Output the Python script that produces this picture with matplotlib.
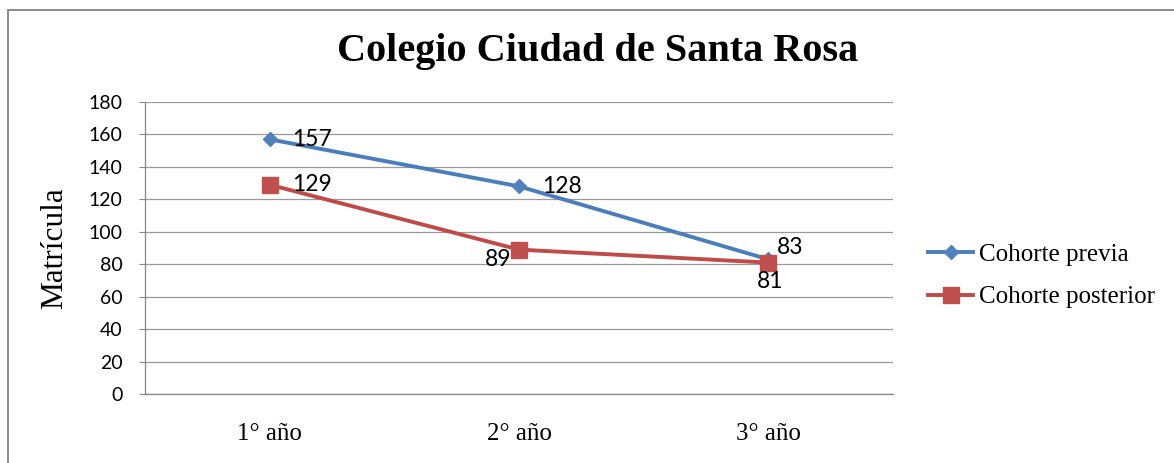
import matplotlib
matplotlib.use("Agg")
import matplotlib.pyplot as plt
from matplotlib.patches import Rectangle
from matplotlib.lines import Line2D

categories = ["1° año", "2° año", "3° año"]
previa = [157, 128, 83]
posterior = [129, 89, 81]
series_names = ["Cohorte previa", "Cohorte posterior"]
yticks = [0, 20, 40, 60, 80, 100, 120, 140, 160, 180]
title = "Colegio Ciudad de Santa Rosa"
ylabel = "Matrícula"

# label offsets in pixels (dx, dy) and alignment for each point
previa_off = [(22, 0, "left", "center"), (23, 0, "left", "center"), (9, 12, "left", "center")]
posterior_off = [(22, 0, "left", "center"), (-21, -10, "center", "center"), (2, -19, "center", "center")]

W, H = 1174, 463
fig = plt.figure(figsize=(W / 100, H / 100), dpi=100)
serif = "Liberation Serif"
sans = "Lato"

# outer frame
fig.patches.append(Rectangle((8 / W, -0.1), 1.2, 1 - 10 / H + 0.1, transform=fig.transFigure,
                             fill=False, edgecolor="#8a8a8a", linewidth=1.4, zorder=0))

left, right, top, bottom = 145, 893, 102, 394
ax = fig.add_axes([left / W, 1 - bottom / H, (right - left) / W, (bottom - top) / H])

blue_line, blue_mk = "#4A7EBB", "#4F81BD"
red_line, red_mk = "#BE4B48", "#C0504D"
x = list(range(len(categories)))
ax.plot(x, previa, color=blue_line, lw=2.8, marker="D", markersize=7.5,
        markerfacecolor=blue_mk, markeredgecolor=blue_mk, zorder=4, solid_capstyle="round")
ax.plot(x, posterior, color=red_line, lw=2.8, marker="s", markersize=11,
        markerfacecolor=red_mk, markeredgecolor=red_mk, zorder=5, solid_capstyle="round")

def px2pt(v):
    return v * 72 / 100

for xs, vals, offs in [(x, previa, previa_off), (x, posterior, posterior_off)]:
    for xi, v, (dx, dy, ha, va) in zip(xs, vals, offs):
        ax.annotate(str(v), (xi, v), xytext=(px2pt(dx), px2pt(dy)), textcoords="offset points",
                    ha=ha, va=va, fontsize=16.5, family=sans, color="black", zorder=6)

ax.set_xlim(-0.5, len(categories) - 0.5)
ax.set_ylim(0, 180)
ax.set_yticks(yticks)
ax.set_xticks(x)
ax.set_xticklabels(categories, family=serif, fontsize=18)
ax.set_yticklabels([str(t) for t in yticks], family=sans, fontsize=14)
ax.tick_params(axis="x", length=0, pad=21)
ax.tick_params(axis="y", length=4, width=0.8, color="#868686", pad=12)
ax.grid(axis="y", color="#9a9a9a", linewidth=0.9)
ax.set_axisbelow(True)
for s in ["top", "right"]:
    ax.spines[s].set_visible(False)
for s in ["left", "bottom"]:
    ax.spines[s].set_color("#868686")
    ax.spines[s].set_linewidth(0.9)

fig.text(598 / W, 1 - 52 / H, title, ha="center", va="center", family=serif,
         fontweight="bold", fontsize=29)
fig.text(55 / W, 1 - 248 / H, ylabel, ha="center", va="center", rotation=90,
         family=serif, fontsize=22.5)

handles = [Line2D([], [], color=blue_line, lw=2.8, marker="D", markersize=7.5,
                  markerfacecolor=blue_mk, markeredgecolor=blue_mk),
           Line2D([], [], color=red_line, lw=2.8, marker="s", markersize=11,
                  markerfacecolor=red_mk, markeredgecolor=red_mk)]
fig.legend(handles, series_names, loc="center left", bbox_to_anchor=(918 / W, 1 - 276 / H),
           frameon=False, prop={"family": serif, "size": 18}, handlelength=1.8,
           handletextpad=0.25, labelspacing=0.8, borderaxespad=0)

fig.savefig("out.png", dpi=100)
